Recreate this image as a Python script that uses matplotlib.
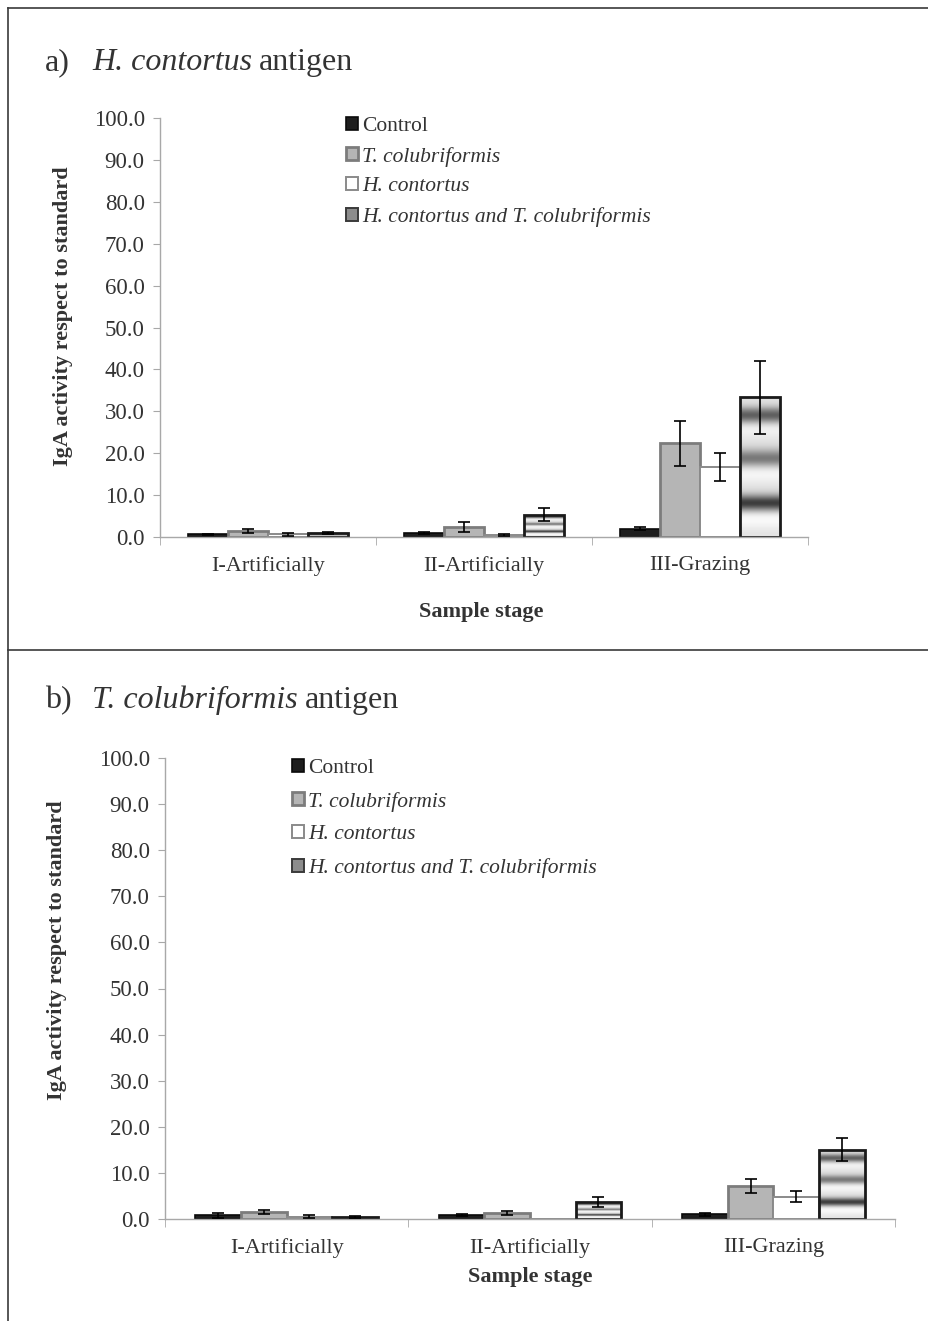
import matplotlib
matplotlib.use("Agg")
import matplotlib.pyplot as plt
import numpy as np
from matplotlib.patches import Patch
from matplotlib.lines import Line2D

# ---------------------------------------------------------------------------
# Data
# ---------------------------------------------------------------------------
categories = ["I-Artificially", "II-Artificially", "III-Grazing"]
series = ["Control", "T. colubriformis", "H. contortus",
          "H. contortus and T. colubriformis"]

# a) H. contortus antigen
hc_control = [0.6, 0.9, 2.0]
hc_control_err = [0.2, 0.2, 0.4]
hc_tcol = [1.4, 2.4, 22.4]
hc_tcol_err = [0.5, 1.2, 5.4]
hc_hcon = [0.6, 0.4, 16.7]
hc_hcon_err = [0.3, 0.2, 3.4]
hc_mix = [0.9, 5.3, 33.3]
hc_mix_err = [0.2, 1.6, 8.7]

# b) T. colubriformis antigen
tc_control = [0.8, 0.8, 1.0]
tc_control_err = [0.6, 0.2, 0.4]
tc_tcol = [1.5, 1.3, 7.1]
tc_tcol_err = [0.5, 0.4, 1.5]
tc_hcon = [0.5, 0.1, 4.8]
tc_hcon_err = [0.3, 0.0, 1.2]
tc_mix = [0.5, 3.6, 15.0]
tc_mix_err = [0.2, 1.1, 2.5]

yticks = np.arange(0, 101, 10)

# ---------------------------------------------------------------------------
# Style
# ---------------------------------------------------------------------------
plt.rcParams["font.family"] = ["Liberation Serif", "DejaVu Serif"]
TXT = "#333333"
AXC = "#a8a8a8"
W, H = 929, 1321

STYLES = [
    dict(facecolor="#1e1e1e", edgecolor="#0a0a0a", linewidth=1.2),
    dict(facecolor="#b5b5b5", edgecolor="#7c7c7c", linewidth=2.0),
    dict(facecolor="white", edgecolor="#8a8a8a", linewidth=1.4),
    dict(facecolor="none", edgecolor="#1a1a1a", linewidth=2.0),
]


def band_gradient(n=300):
    # banded grey fill of the combined-infection bars (relative to bar height)
    f = np.linspace(0, 1, n)
    v = 0.95 - 0.06 * np.cos(2 * np.pi * f * 3)
    for c, d, w in [(0.24, 0.72, 0.06), (0.56, 0.5, 0.065), (0.87, 0.62, 0.06)]:
        v -= d * np.exp(-((f - c) / w) ** 2)
    return np.clip(v, 0, 1)[:, None]


GRAD = band_gradient()


def fpx(x, y):
    return x / W, 1 - y / H


fig = plt.figure(figsize=(W / 100, H / 100), dpi=100)

# frame lines
fig.add_artist(Line2D([8 / W, 8 / W], [0, 1 - 8 / H], color="#3a3a3a", lw=1.2))
fig.add_artist(Line2D([8 / W, 1], [1 - 8 / H, 1 - 8 / H], color="#3a3a3a", lw=1.2))
fig.add_artist(Line2D([8 / W, 1], [1 - 650 / H, 1 - 650 / H], color="#3a3a3a", lw=1.2))


def panel(rect, data, errs, width, leg_xy, leg_spacing, xlab_xy, ylab_xy):
    ax = fig.add_axes(rect)
    x = np.arange(len(categories))
    for i, (vals, err) in enumerate(zip(data, errs)):
        pos = x + (i - 1.5) * width
        bars = ax.bar(pos, vals, width, zorder=2, **STYLES[i])
        if i == 3:
            for b in bars:
                im = ax.imshow(GRAD, cmap="gray", vmin=0, vmax=1, origin="lower",
                               aspect="auto", interpolation="bilinear",
                               extent=[b.get_x(), b.get_x() + b.get_width(),
                                       0, b.get_height()], zorder=1.5)
                im.set_clip_path(b)
        err = np.asarray(err)
        keep = err > 0
        ax.errorbar(pos[keep], np.asarray(vals)[keep], yerr=err[keep], fmt="none",
                    ecolor="black", elinewidth=1.2, capsize=4, capthick=1.2,
                    zorder=3)
    ax.set_xlim(-0.5, 2.5)
    ax.set_ylim(0, 100)
    ax.set_yticks(yticks)
    ax.set_yticklabels([f"{v:.1f}" for v in yticks], fontsize=16.5, color=TXT)
    ax.set_xticks(x)
    ax.set_xticklabels(categories, fontsize=16, color=TXT)
    ax.set_xticks([-0.5, 0.5, 1.5, 2.5], minor=True)
    ax.tick_params(axis="x", which="major", length=0, pad=14)
    ax.tick_params(axis="x", which="minor", length=6, color=AXC, direction="out")
    ax.tick_params(axis="y", length=5, color=AXC, direction="out", pad=6)
    for s in ["top", "right"]:
        ax.spines[s].set_visible(False)
    for s in ["left", "bottom"]:
        ax.spines[s].set_color(AXC)
        ax.spines[s].set_linewidth(1.0)

    handles = [Patch(**STYLES[0]), Patch(**STYLES[1]), Patch(**STYLES[2]),
               Patch(facecolor="#8c8c8c", edgecolor="#3a3a3a", linewidth=1.4)]
    lx, ly = fpx(*leg_xy)
    leg = ax.legend(handles, series, loc="upper left", bbox_to_anchor=(lx, ly),
                    bbox_transform=fig.transFigure, frameon=False, fontsize=15.5,
                    handlelength=0.55, handleheight=0.55, handletextpad=0.2,
                    labelspacing=leg_spacing, borderpad=0, borderaxespad=0)
    for j, t in enumerate(leg.get_texts()):
        t.set_color(TXT)
        if j > 0:
            t.set_fontstyle("italic")

    fig.text(*fpx(*xlab_xy), "Sample stage", fontsize=16, fontweight="bold",
             color=TXT, ha="center", va="center")
    fig.text(*fpx(*ylab_xy), "IgA activity respect to standard", fontsize=16,
             fontweight="bold", color=TXT, rotation=90, ha="center", va="center")
    return ax


def title(y, letter, species):
    r = fig.canvas.get_renderer()
    fig.text(*fpx(45, y), letter, fontsize=23, color=TXT, va="baseline")
    t2 = fig.text(*fpx(92, y), species, fontsize=23, color=TXT, va="baseline",
                  style="italic")
    bb = t2.get_window_extent(r)
    fig.text(bb.x1 / W + 7 / W, 1 - y / H, "antigen", fontsize=23, color=TXT,
             va="baseline")


title(70, "a)", "H. contortus")
panel([160 / W, 1 - 537 / H, 648 / W, 419 / H],
      [hc_control, hc_tcol, hc_hcon, hc_mix],
      [hc_control_err, hc_tcol_err, hc_hcon_err, hc_mix_err],
      0.185, (346, 117), 0.49, (481, 612), (63, 316))

title(708, "b)", "T. colubriformis")
panel([165 / W, 1 - 1219 / H, 730 / W, 461 / H],
      [tc_control, tc_tcol, tc_hcon, tc_mix],
      [tc_control_err, tc_tcol_err, tc_hcon_err, tc_mix_err],
      0.1875, (292, 759), 0.63, (530, 1277), (57, 950))

fig.savefig("out.png", dpi=100)
